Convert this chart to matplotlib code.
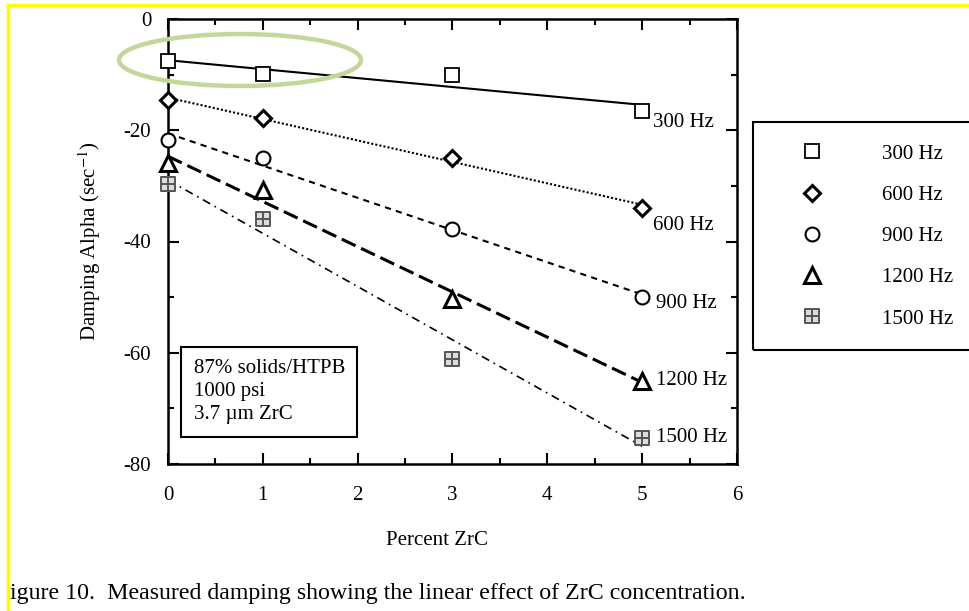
import numpy as np
import matplotlib
matplotlib.use("Agg")
from matplotlib import pyplot as plt
from matplotlib.path import Path
from matplotlib.lines import Line2D
from matplotlib.patches import Ellipse, Rectangle

# measured damping vs ZrC loading
pct_zrc = [0, 1, 3, 5]
freqs = ['300 Hz', '600 Hz', '900 Hz', '1200 Hz', '1500 Hz']
alpha_300 = [-7.6, -9.9, -10.0, -16.6]
alpha_600 = [-14.6, -17.8, -24.9, -33.9]
alpha_900 = [-21.8, -24.9, -37.8, -49.9]
alpha_1200 = [-25.8, -30.8, -50.3, -65.0]
alpha_1500 = [-29.7, -35.9, -61.1, -75.3]
series = [alpha_300, alpha_600, alpha_900, alpha_1200, alpha_1500]

plt.rcParams['font.family'] = ['Liberation Serif', 'DejaVu Serif']
plt.rcParams['mathtext.fontset'] = 'stix'
plt.rcParams['axes.unicode_minus'] = False

# square with a cross through it, for the 1500 Hz points
grid_sq = Path([(-1, -1), (1, -1), (1, 1), (-1, 1), (-1, -1),
                (0, -1), (0, 1), (-1, 0), (1, 0)],
               [Path.MOVETO, Path.LINETO, Path.LINETO, Path.LINETO, Path.CLOSEPOLY,
                Path.MOVETO, Path.LINETO, Path.MOVETO, Path.LINETO])

markers = ['s', 'D', 'o', '^', grid_sq]
msizes = [10, 8, 10, 11, 10]
mcolors = ['black', 'black', 'black', 'black', '#555555']
mfaces = ['white', 'white', 'white', 'white', '#dddddd']
mwidths = [1.3, 2.2, 1.5, 2.2, 1.4]
styles = ['-', (0, (1, 1)), (0, (3, 2.5)), (0, (5, 2)), (0, (5, 3, 1, 3))]
lwidths = [1.5, 1.5, 1.5, 2.2, 1.2]
lab_offsets = [(8, -8), (8, -13), (10, -5), (10, 0), (10, 0)]
fs = 15

fig = plt.figure(figsize=(9.7, 6.11), dpi=100)
ax = fig.add_axes([168/970, 1-464/611, (737-168)/970, (464-19)/611])

xs = np.array(pct_zrc)
xfit = np.array([0, 5])
for y, name, m, ms, mc, mf, mw, ls, lw, off in zip(series, freqs, markers, msizes, mcolors, mfaces,
                                                 mwidths, styles, lwidths, lab_offsets):
    k, b = np.polyfit(xs, y, 1)
    ax.plot(xfit, k*xfit + b, color='black', linestyle=ls, linewidth=lw, zorder=2)
    ax.plot(xs, y, linestyle='none', marker=m, markersize=ms, markerfacecolor=mf,
            markeredgecolor=mc, markeredgewidth=mw, clip_on=False, zorder=3)
    ax.annotate(name, (xs[-1], y[-1]), xytext=off, textcoords='offset points',
                ha='left', va='center', fontsize=fs)

ax.set_xlim(0, 6)
ax.set_ylim(-80, 0)
ax.set_xticks(range(7))
ax.set_xticks(np.arange(0.5, 6, 1), minor=True)
ax.set_yticks(range(-80, 1, 20))
ax.set_yticks(range(-70, 0, 20), minor=True)
ax.tick_params(which='both', direction='in', top=True, right=True, width=1.5, labelsize=fs)
ax.tick_params(which='major', length=8)
ax.tick_params(which='minor', length=4)
ax.tick_params(axis='x', pad=16)
ax.tick_params(axis='y', pad=12)
for sp in ax.spines.values():
    sp.set_linewidth(1.8)

ax.set_xlabel('Percent ZrC', fontsize=fs)
ax.xaxis.set_label_coords(0.473, -0.15)
ax.set_ylabel('Damping Alpha (sec$^{-1}$)', fontsize=fs)
ax.yaxis.set_label_coords(-0.115, 0.5)

ax.text(0.045, 0.235, '87% solids/HTPB\n1000 psi\n3.7 \u00b5m ZrC', transform=ax.transAxes,
        fontsize=fs, va='top', ha='left', linespacing=1.28,
        bbox=dict(boxstyle='square,pad=0.6', facecolor='white', edgecolor='black', linewidth=1.5))

# marker key to the right of the axes
handles = [Line2D([], [], linestyle='none', marker=m, markersize=ms, markerfacecolor=mf,
                  markeredgecolor=mc, markeredgewidth=mw)
           for m, ms, mc, mf, mw in zip(markers, msizes, mcolors, mfaces, mwidths)]
fig.legend(handles, freqs, loc='upper left', bbox_to_anchor=(801.6/970, 1-144/611),
           frameon=False, fontsize=fs, handlelength=1.0, handletextpad=2.86,
           labelspacing=1.04, borderaxespad=0, borderpad=0)
fig.patches.append(Rectangle((753/970, 1-350/611), 260/970, 228/611, transform=fig.transFigure,
                             fill=False, edgecolor='black', linewidth=1.5))

fig.text(10/970, 1-593/611, 'igure 10.  Measured damping showing the linear effect of ZrC concentration.',
         fontsize=17.2, ha='left', va='center')

# highlight ring and page border
fig.patches.append(Ellipse((240/970, 1-60/611), 242/970, 52/611, transform=fig.transFigure,
                           fill=False, edgecolor='#c4d79b', linewidth=3.2, zorder=10))
fig.add_artist(Line2D([8.5/970, 1], [1-5/611, 1-5/611], color='yellow', linewidth=2.5))
fig.add_artist(Line2D([8.5/970, 8.5/970], [0, 1-5/611], color='yellow', linewidth=2.5))

fig.savefig('out.png', dpi=100)
